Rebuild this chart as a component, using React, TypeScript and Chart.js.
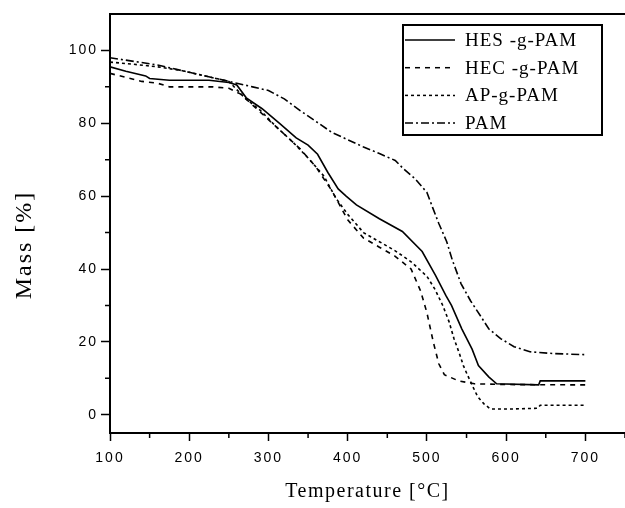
import React, { useEffect, useRef } from 'react';
import { Chart, registerables } from 'chart.js';

Chart.register(...registerables);

const seriesLabels = ['HES -g-PAM', 'HEC -g-PAM', 'AP-g-PAM', 'PAM'];

const hesT = [100, 120, 145, 150, 175, 225, 250, 260, 272, 292, 314, 335, 350, 362, 375, 388, 398, 411, 440, 469, 494, 511, 524, 531, 544, 557, 565, 578, 588, 641, 643, 700];
const hesM = [95.5, 94.3, 93, 92.3, 91.8, 91.8, 91.2, 90.5, 87, 84, 80, 76, 74, 71.5, 66.5, 62, 60, 57.6, 53.8, 50.3, 44.8, 38.2, 32.7, 30, 23.6, 18, 13.5, 10.4, 8.5, 8.2, 9.3, 9.3];

const hecT = [100, 120, 140, 160, 175, 230, 250, 265, 280, 300, 320, 340, 360, 380, 400, 420, 440, 460, 480, 492, 500, 508, 515, 522, 540, 560, 600, 700];
const hecM = [93.7, 92.6, 91.5, 91, 90, 90, 89.6, 88, 85, 81, 77, 73, 68, 61.5, 53.5, 48.5, 46, 43.5, 40, 34, 28, 20, 14, 11, 9.3, 8.5, 8.3, 8.2];

const apT = [100, 130, 160, 190, 220, 250, 270, 290, 310, 330, 350, 370, 385, 400, 420, 440, 460, 480, 490, 500, 510, 520, 528, 534, 541, 546, 551, 558, 564, 572, 580, 610, 640, 643, 700];
const apM = [96.8, 96.2, 95.5, 94.5, 93, 91.5, 87, 83.5, 79, 75, 70.5, 65.5, 59.5, 55, 50, 47.5, 45, 42, 40, 38, 34.5, 30, 25.5, 21, 16.8, 13.5, 11, 7.7, 5, 3, 1.6, 1.6, 1.8, 2.6, 2.6];

const pamT = [100, 130, 160, 200, 230, 260, 280, 300, 320, 340, 360, 380, 400, 420, 440, 460, 470, 485, 500, 507, 515, 525, 532, 543, 555, 568, 578, 593, 610, 630, 660, 700];
const pamM = [98, 97, 96, 94, 92.5, 91, 90, 89, 86.7, 83.5, 80.5, 77.5, 75.5, 73.5, 71.7, 69.8, 67.6, 64.8, 61, 57, 52.5, 47.5, 42.5, 36, 31.3, 27, 23.6, 20.9, 18.7, 17.3, 16.8, 16.5];

const xMajorTicks = [100, 200, 300, 400, 500, 600, 700];
const xMinorTicks = [150, 250, 350, 450, 550, 650, 750];
const yMajorTicks = [0, 20, 40, 60, 80, 100];
const yMinorTicks = [10, 30, 50, 70, 90];

const xTitle = 'Temperature [°C]';
const yTitle = 'Mass [%]';

const dashes = [[], [5, 5], [3, 3], [8, 3, 2, 3]];

const zip = (t: number[], m: number[]) => t.map((v, i) => ({ x: v, y: m[i] }));

const serif = '"Liberation Serif", "Times New Roman", serif';
const sans = '"Liberation Sans", Arial, sans-serif';

const decorPlugin = {
  id: 'decor',
  beforeDraw(chart: any) {
    chart.ctx.letterSpacing = '2px';
  },
  afterDraw(chart: any) {
    const { ctx, chartArea, scales } = chart;
    const xs = scales.x;
    const ys = scales.y;
    ctx.save();
    ctx.letterSpacing = '0px';
    ctx.strokeStyle = '#000';
    ctx.lineWidth = 2;
    // top frame
    ctx.beginPath();
    ctx.moveTo(chartArea.left - 1, chartArea.top);
    ctx.lineTo(chartArea.right, chartArea.top);
    ctx.stroke();
    // minor ticks
    ctx.lineWidth = 1.5;
    ctx.beginPath();
    xMinorTicks.forEach((v) => {
      const px = xs.getPixelForValue(v);
      ctx.moveTo(px, chartArea.bottom);
      ctx.lineTo(px, chartArea.bottom + 5);
    });
    yMinorTicks.forEach((v) => {
      const py = ys.getPixelForValue(v);
      ctx.moveTo(chartArea.left, py);
      ctx.lineTo(chartArea.left - 5, py);
    });
    ctx.stroke();

    // axis titles
    ctx.fillStyle = '#000';
    ctx.font = `20px ${serif}`;
    ctx.letterSpacing = '1.5px';
    ctx.textAlign = 'center';
    ctx.textBaseline = 'middle';
    ctx.fillText(xTitle, (chartArea.left + chartArea.right) / 2, 492);
    ctx.save();
    ctx.translate(25, 245);
    ctx.rotate(-Math.PI / 2);
    ctx.font = `24px ${serif}`;
    ctx.letterSpacing = '2px';
    ctx.fillText(yTitle, 0, 0);
    ctx.restore();

    // legend
    const bx = 403, by = 25, bw = 199, bh = 110;
    ctx.lineWidth = 2;
    ctx.strokeRect(bx, by, bw, bh);
    ctx.font = `19px ${serif}`;
    ctx.letterSpacing = '1px';
    ctx.textAlign = 'left';
    chart.data.datasets.forEach((ds: any, i: number) => {
      const ry = 40 + i * 27.7;
      ctx.save();
      ctx.lineWidth = 1.5;
      ctx.setLineDash(ds.borderDash || []);
      ctx.beginPath();
      ctx.moveTo(bx + 2, ry);
      ctx.lineTo(bx + 52, ry);
      ctx.stroke();
      ctx.restore();
      ctx.fillText(ds.label, bx + 62, ry + 1);
    });
    ctx.restore();
  },
};

export default function App() {
  const ref = useRef<HTMLCanvasElement | null>(null);
  useEffect(() => {
    document.body.style.margin = '0';
    const canvas = ref.current!;
    const datasets = [zip(hesT, hesM), zip(hecT, hecM), zip(apT, apM), zip(pamT, pamM)].map((d, i) => ({
      label: seriesLabels[i],
      data: d,
      borderColor: '#000',
      backgroundColor: '#000',
      borderWidth: 1.6,
      borderDash: dashes[i],
      pointRadius: 0,
      tension: 0,
      fill: false,
    }));
    const chart = new Chart(canvas, {
      type: 'line',
      data: { datasets },
      options: {
        animation: false,
        responsive: false,
        maintainAspectRatio: false,
        layout: { padding: { top: 14, right: 0, left: 0, bottom: 0 } },
        plugins: { legend: { display: false }, tooltip: { enabled: false } },
        scales: {
          x: {
            type: 'linear',
            min: 100,
            max: 750,
            afterBuildTicks: (axis: any) => {
              axis.ticks = xMajorTicks.map((v) => ({ value: v }));
            },
            afterFit: (s: any) => {
              s.height = 75;
            },
            grid: { display: true, drawOnChartArea: false, drawTicks: true, tickLength: 8, tickWidth: 1.5, tickColor: '#000' },
            border: { display: true, color: '#000', width: 2 },
            ticks: { color: '#000', font: { family: sans, size: 14 }, padding: 9, maxRotation: 0, autoSkip: false },
          },
          y: {
            type: 'linear',
            min: -5,
            max: 110,
            afterBuildTicks: (axis: any) => {
              axis.ticks = yMajorTicks.map((v) => ({ value: v }));
            },
            afterFit: (s: any) => {
              s.width = 110;
            },
            grid: { display: true, drawOnChartArea: false, drawTicks: true, tickLength: 9, tickWidth: 1.5, tickColor: '#000' },
            border: { display: true, color: '#000', width: 2 },
            ticks: { color: '#000', font: { family: sans, size: 14 }, padding: 3, autoSkip: false },
          },
        },
      },
      plugins: [decorPlugin],
    });
    return () => chart.destroy();
  }, []);
  return <canvas ref={ref} width={625} height={508} style={{ display: 'block', width: 625, height: 508 }} />;
}
